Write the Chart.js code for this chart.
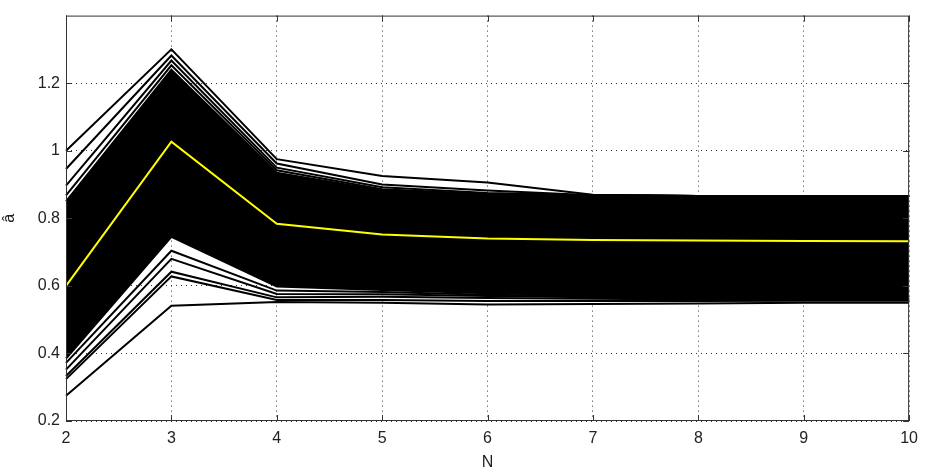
<!DOCTYPE html>
<html lang="en">
<head>
    <meta charset="UTF-8">
    <title>a-hat vs N</title>
    <script src="https://cdn.jsdelivr.net/npm/chart.js"></script>
    <style>
        html, body { margin: 0; padding: 0; background: #fff; }
        #wrap { width: 926px; height: 475px; }
    </style>
</head>
<body>
    <div id="wrap"><canvas id="aChart" width="926" height="475"></canvas></div>

    <script>
        // x categories (N) and y tick labels
        const nValues = [2, 3, 4, 5, 6, 7, 8, 9, 10];
        const yTicks = [0.2, 0.4, 0.6, 0.8, 1, 1.2];

        // yellow line (mean estimate)
        const meanA = [0.60, 1.027, 0.784, 0.752, 0.740, 0.736, 0.734, 0.733, 0.732];

        // dense black band edges (hundreds of runs overlap here)
        const bandTop = [0.850, 1.240, 0.935, 0.882, 0.870, 0.868, 0.866, 0.866, 0.866];
        const bandBottom = [0.385, 0.745, 0.598, 0.588, 0.578, 0.572, 0.567, 0.565, 0.564];

        // single runs visible outside the band
        const upper1 = [1.000, 1.300, 0.975, 0.925, 0.906, 0.870, 0.866, 0.866, 0.866];
        const upper2 = [0.946, 1.282, 0.962, 0.900, 0.882, 0.868, 0.866, 0.866, 0.866];
        const upper3 = [0.897, 1.267, 0.950, 0.892, 0.875, 0.868, 0.866, 0.866, 0.866];
        const upper4 = [0.868, 1.253, 0.942, 0.886, 0.872, 0.868, 0.866, 0.866, 0.866];
        const lower1 = [0.275, 0.541, 0.552, 0.550, 0.545, 0.546, 0.548, 0.550, 0.550];
        const lower2 = [0.324, 0.628, 0.558, 0.558, 0.555, 0.555, 0.555, 0.556, 0.556];
        const lower3 = [0.333, 0.642, 0.566, 0.568, 0.564, 0.562, 0.560, 0.560, 0.560];
        const lower4 = [0.352, 0.680, 0.576, 0.575, 0.570, 0.566, 0.562, 0.562, 0.561];
        const lower5 = [0.372, 0.704, 0.586, 0.582, 0.574, 0.569, 0.564, 0.563, 0.562];

        const upperRuns = [upper1, upper2, upper3, upper4];
        const lowerRuns = [lower1, lower2, lower3, lower4, lower5];

        function runLine(values) {
            return {
                data: values,
                borderColor: "#000",
                borderWidth: 2,
                pointRadius: 0,
                tension: 0,
                fill: false,
                order: 2
            };
        }

        // box around the plot plus matlab style inward ticks
        const boxPlugin = {
            id: "box",
            afterDraw(chart) {
                const ctx = chart.ctx;
                const a = chart.chartArea;
                const xs = chart.scales.x;
                const ys = chart.scales.y;
                ctx.save();
                ctx.strokeStyle = "#333";
                ctx.lineWidth = 1;
                ctx.setLineDash([]);
                ctx.strokeRect(a.left + 0.5, a.top + 0.5, a.right - a.left - 1, a.bottom - a.top - 1);
                ctx.beginPath();
                nValues.forEach(function (n, i) {
                    const px = Math.round(xs.getPixelForValue(i)) + 0.5;
                    ctx.moveTo(px, a.bottom);
                    ctx.lineTo(px, a.bottom - 6);
                    ctx.moveTo(px, a.top);
                    ctx.lineTo(px, a.top + 6);
                });
                yTicks.forEach(function (v) {
                    const py = Math.round(ys.getPixelForValue(v)) + 0.5;
                    ctx.moveTo(a.left, py);
                    ctx.lineTo(a.left + 6, py);
                    ctx.moveTo(a.right, py);
                    ctx.lineTo(a.right - 6, py);
                });
                ctx.stroke();
                ctx.restore();
            }
        };

        const datasets = [
            {
                data: meanA,
                borderColor: "#ffff00",
                borderWidth: 2,
                pointRadius: 0,
                tension: 0,
                fill: false,
                order: 0
            },
            {
                data: bandTop,
                borderColor: "#000",
                borderWidth: 2,
                backgroundColor: "#000",
                pointRadius: 0,
                tension: 0,
                fill: "+1",
                order: 3
            },
            {
                data: bandBottom,
                borderColor: "#000",
                borderWidth: 2,
                pointRadius: 0,
                tension: 0,
                fill: false,
                order: 3
            }
        ];
        upperRuns.forEach(function (r) { datasets.push(runLine(r)); });
        lowerRuns.forEach(function (r) { datasets.push(runLine(r)); });

        const fontSpec = { family: "Liberation Sans, Arial", size: 16 };

        const ctx = document.getElementById("aChart").getContext("2d");
        new Chart(ctx, {
            type: "line",
            data: {
                labels: nValues,
                datasets: datasets
            },
            options: {
                responsive: false,
                animation: false,
                layout: { padding: { left: 0, right: 13, top: 6, bottom: 0 } },
                plugins: {
                    legend: { display: false },
                    tooltip: { enabled: false }
                },
                scales: {
                    x: {
                        offset: false,
                        afterFit: function (axis) { axis.height = 54; },
                        grid: {
                            color: "#333",
                            lineWidth: 1,
                            drawTicks: false,
                            borderDash: [1, 4]
                        },
                        border: { display: false, dash: [1, 4] },
                        ticks: {
                            padding: 8,
                            color: "#222",
                            font: fontSpec,
                            maxRotation: 0
                        },
                        title: {
                            display: true,
                            text: "N",
                            color: "#222",
                            font: fontSpec,
                            padding: { top: 0, bottom: 3 }
                        }
                    },
                    y: {
                        min: 0.2,
                        max: 1.4,
                        afterFit: function (axis) { axis.width = 66; },
                        afterBuildTicks: function (axis) {
                            axis.ticks = yTicks.map(function (v) { return { value: v }; });
                        },
                        grid: {
                            color: "#333",
                            lineWidth: 1,
                            drawTicks: false,
                            borderDash: [1, 4]
                        },
                        border: { display: false, dash: [1, 4] },
                        ticks: {
                            padding: 6,
                            color: "#222",
                            font: fontSpec,
                            callback: function (v) { return String(parseFloat(Number(v).toFixed(1))); }
                        },
                        title: {
                            display: true,
                            text: "â",
                            color: "#222",
                            font: fontSpec,
                            padding: { top: 0, bottom: 0 }
                        }
                    }
                }
            },
            plugins: [boxPlugin]
        });
    </script>
</body>
</html>
